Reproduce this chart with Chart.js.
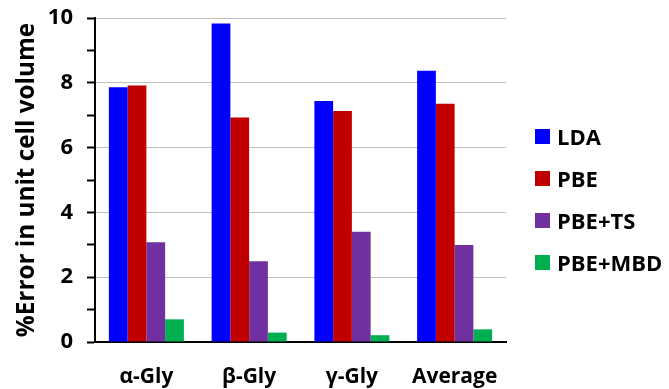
<!DOCTYPE html>
<html>
<head>
<meta charset="utf-8">
<script src="https://cdn.jsdelivr.net/npm/chart.js@4"></script>
<style>
  html, body { margin: 0; padding: 0; background: #fff; }
  #wrap { position: relative; width: 669px; height: 389px; }
  #legend { position: absolute; left: 535px; top: 115px; font: bold 22px "Open Sans", sans-serif; color: #000; }
  #legend div { height: 42px; display: flex; align-items: center; margin: 0; }
  #legend span.box { width: 15px; height: 15px; display: inline-block; margin-right: 7px; }
</style>
</head>
<body>
<div id="wrap">
  <canvas id="chart" width="669" height="389"></canvas>
  <div id="legend"></div>
</div>
<script>
const categories = ['α-Gly', 'β-Gly', 'γ-Gly', 'Average'];
const seriesNames = ['LDA', 'PBE', 'PBE+TS', 'PBE+MBD'];
const ldaValues = [7.86, 9.83, 7.44, 8.37];
const pbeValues = [7.92, 6.93, 7.13, 7.35];
const pbeTsValues = [3.08, 2.49, 3.40, 2.99];
const pbeMbdValues = [0.70, 0.29, 0.21, 0.39];
const yTickLabels = [0, 2, 4, 6, 8, 10];

const colors = ['#0000FF', '#C00000', '#7030A0', '#00B050'];
const allValues = [ldaValues, pbeValues, pbeTsValues, pbeMbdValues];

const font = '"Open Sans", sans-serif';

const datasets = seriesNames.map((name, i) => ({
  label: name,
  data: allValues[i],
  backgroundColor: colors[i],
  barPercentage: 1,
  categoryPercentage: 0.73
}));

// legend drawn as html so it can sit where the original one is
const legendEl = document.getElementById('legend');
seriesNames.forEach((name, i) => {
  const row = document.createElement('div');
  row.innerHTML = `<span class="box" style="background:${colors[i]}"></span>${name}`;
  legendEl.appendChild(row);
});

new Chart(document.getElementById('chart'), {
  type: 'bar',
  data: { labels: categories, datasets },
  options: {
    responsive: false,
    animation: false,
    layout: { padding: { left: 8, right: 163, top: 0, bottom: 0 } },
    plugins: { legend: { display: false }, tooltip: { enabled: false } },
    scales: {
      x: {
        grid: { display: false, drawTicks: false },
        border: { color: '#000', width: 2 },
        ticks: { color: '#000', font: { family: font, size: 21, weight: 'bold' }, padding: 22 },
        afterFit: axis => { axis.height = 47; }
      },
      y: {
        min: 0,
        max: 10,
        grid: {
          // gridlines only on labelled (even) ticks, minor tick marks on all
          color: ctx => (ctx.tick && ctx.tick.value % 2 === 0 && ctx.tick.value > 0) ? '#BFBFBF' : 'rgba(0,0,0,0)',
          tickColor: '#000',
          tickLength: 8,
          lineWidth: 1,
          tickWidth: 2
        },
        border: { color: '#000', width: 2 },
        ticks: {
          stepSize: 1,
          color: '#000',
          padding: 14,
          font: { family: font, size: 22, weight: 'bold' },
          callback: v => yTickLabels.includes(v) ? v : ''
        },
        afterFit: axis => { axis.paddingTop = 18; axis.width = 87; },
        title: {
          display: true,
          text: '%Error in unit cell volume',
          color: '#000',
          font: { family: font, size: 24.3, weight: 'bold' },
          padding: { bottom: 4 }
        }
      }
    }
  }
});
</script>
</body>
</html>
